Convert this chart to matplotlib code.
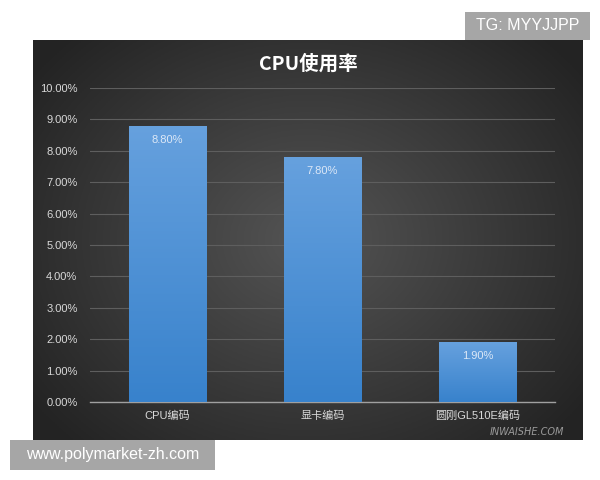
import numpy as np
import matplotlib
matplotlib.use('Agg')
import matplotlib.pyplot as plt
from matplotlib.patches import Rectangle

plt.rcParams['font.family'] = ['Noto Sans CJK SC', 'DejaVu Sans']

categories = ['CPU编码', '显卡编码', '圆刚GL510E编码']
usage = [8.8, 7.8, 1.9]
yticks = [0, 1, 2, 3, 4, 5, 6, 7, 8, 9, 10]

fig = plt.figure(figsize=(6, 4.8), dpi=100)
fig.patch.set_facecolor('white')

# dark panel with radial-ish gradient
bg = fig.add_axes([33/600, 1-440/480, 550/600, 400/480])
yy, xx = np.mgrid[-1:1:200j, -1:1:300j]
r = np.sqrt((xx*0.9)**2 + (yy*0.8)**2)
shade = np.clip(0.33 - 0.17*r, 0.14, 0.33)
bg.imshow(np.dstack([shade, shade, shade]), aspect='auto', extent=[0, 1, 0, 1])
bg.set_axis_off()

ax = fig.add_axes([90/600, 1-402/480, 465/600, 314/480])
ax.set_facecolor('none')
x = np.arange(len(categories))

grad = np.linspace(0, 1, 100).reshape(-1, 1)
top_c = np.array([0.40, 0.63, 0.87])
bot_c = np.array([0.22, 0.51, 0.80])
img = (bot_c[None, None, :] * (1 - grad[:, :, None]) + top_c[None, None, :] * grad[:, :, None])
img = img[::-1]

lab_fonts = ['Liberation Sans', 'Noto Sans CJK SC']
bars = ax.bar(x, usage, width=0.5, color='none', zorder=3)
for b, v in zip(bars, usage):
    x0 = b.get_x()
    w = b.get_width()
    im = ax.imshow(img, extent=[x0, x0 + w, 0, v], aspect='auto', zorder=3)
    im.set_clip_path(b)
    ax.text(x0 + w/2, v - 0.45, '%.2f%%' % v, ha='center', va='center',
            color='#dce8f7', fontsize=8, family=lab_fonts, zorder=4)
ax.set_aspect('auto')
ax.set_xlim(-0.5, 2.5)
ax.set_ylim(0, 10)

ax.set_yticks(yticks)
ax.set_yticklabels(['%.2f%%' % t for t in yticks], family=lab_fonts)
ax.set_xticks(x)
ax.set_xticklabels(categories, family=lab_fonts)
ax.tick_params(axis='both', length=0, colors='#d9d9d9', labelsize=8)
ax.tick_params(axis='y', pad=9)
ax.tick_params(axis='x', pad=6)
ax.grid(axis='y', color='#5e5e5e', linewidth=0.8, zorder=0)
ax.set_axisbelow(True)
for s in ['top', 'right', 'left']:
    ax.spines[s].set_visible(False)
ax.spines['bottom'].set_color('#a0a0a0')
ax.spines['bottom'].set_linewidth(1)

fig.text(0.5*(33+583)/600, 1-64/480, 'CPU使用率', ha='center', va='center',
         color='white', fontsize=14, fontweight='bold')

# watermarks
fig.text(1-36/600, 1-437/480, 'INWAISHE.COM', ha='right', va='bottom',
         color='#9a9a9a', fontsize=7, style='italic', family='DejaVu Sans')
fig.patches.append(Rectangle((465/600, 1-40/480), 125/600, 28/480,
                             transform=fig.transFigure, fc='#a6a6a6', ec='none', zorder=5))
fig.text(527.5/600, 1-26/480, 'TG: MYYJJPP', ha='center', va='center',
         color='white', fontsize=11.5, family='Liberation Sans', zorder=6)
fig.patches.append(Rectangle((10/600, 1-470/480), 205/600, 30/480,
                             transform=fig.transFigure, fc='#a6a6a6', ec='none', zorder=5))
fig.text(112.5/600, 1-455/480, 'www.polymarket-zh.com', ha='center', va='center',
         color='white', fontsize=11.5, family='Liberation Sans', zorder=6)

fig.savefig('out.png', dpi=100, facecolor='white')
